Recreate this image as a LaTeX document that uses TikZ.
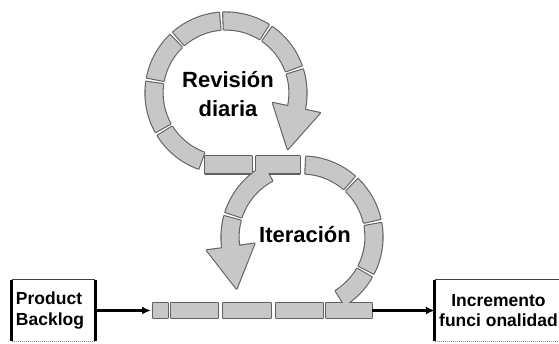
\documentclass[tikz,border=0pt]{standalone}
\usepackage{fontspec}
\setmainfont{Liberation Sans}
\usetikzlibrary{arrows.meta}

% All the segmented band pieces; #1 is the style they are drawn with.
\newcommand\bandshapes[1]{%
  % upper loop (centre 226,251)
  \foreach \a/\b in {250/212,209/172,169/134,131/95,92/58,55/20}{%
    \path[#1] ([shift={(226,251)}]\a:80.5) arc[start angle=\a,end angle=\b,radius=80.5]
      -- ([shift={(226,251)}]\b:63.5) arc[start angle=\b,end angle=\a,radius=63.5] -- cycle;}
  % upper loop arrow
  \path[#1] ([shift={(226,251)}]17:80.5) arc[start angle=17,end angle=-12,radius=80.5]
    -- (319.9,231.04) -- (287.7,194.95) -- (272.95,241.02)
    -- ([shift={(226,251)}]-12:63.5) arc[start angle=-12,end angle=17,radius=63.5] -- cycle;
  % straight band joining both loops
  \path[#1] (205,170.5) rectangle (252,187.5);
  \path[#1] (256,170.5) rectangle (300,187.5);
  % lower loop (centre 302,107)
  \foreach \a/\b in {87/49,46/13,10/-27,-30/-58,118/162}{%
    \path[#1] ([shift={(302,107)}]\a:80.5) arc[start angle=\a,end angle=\b,radius=80.5]
      -- ([shift={(302,107)}]\b:63.5) arc[start angle=\b,end angle=\a,radius=63.5] -- cycle;}
  % lower loop arrow
  \path[#1] ([shift={(302,107)}]165:80.5) arc[start angle=165,end angle=188,radius=80.5]
    -- (206.93,93.64) -- (236.55,55.39) -- (254.47,100.32)
    -- ([shift={(302,107)}]188:63.5) arc[start angle=188,end angle=165,radius=63.5] -- cycle;
  % flow band along the bottom
  \foreach \l/\r in {153/168,171/218,223/271,276/323,326/372}{%
    \path[#1] (\l,26) rectangle (\r,41);}
}

\begin{document}
\begin{tikzpicture}[x=1pt,y=1pt,
  bandline/.style={draw=black!62,line width=2.2pt,line join=round},
  bandfill/.style={fill=black!22},
  boxlabel/.style={font=\bfseries\fontsize{17.5}{20.5}\selectfont,inner sep=0pt},
  looplabel/.style={font=\bfseries\fontsize{22}{29}\selectfont,align=center,inner sep=0pt},
  flow/.style={line width=2.4pt,-{Latex[length=9pt,width=8pt]}},
  sideedge/.style={line width=3pt,black},
  topedge/.style={line width=1.3pt,black!75},
  baseedge/.style={line width=1pt,black!45,densely dotted},
  ]
\useasboundingbox (0,0) rectangle (559,344);
\clip (0,0) rectangle (559,344);

% segmented loops: outlines first, then the fill, so touching pieces merge
\bandshapes{bandline}
\bandshapes{bandfill}

% loop labels
\node[looplabel] (rev) at (228,250) {Revisión\\diaria};
\node[looplabel] (iter) at (305,109) {Iteración};

% input and output boxes
\node[boxlabel,minimum width=83,minimum height=61,text width=75,align=left] (pb) at (53.5,33.5) {Product\\Backlog};
\node[boxlabel,minimum width=127,minimum height=61,align=center] (inc) at (498.5,33.5) {Incremento\\funci onalidad};

\foreach \b in {pb,inc}{%
  \draw[topedge] (\b.north west) -- (\b.north east);
  \draw[baseedge] (\b.south west) -- (\b.south east);
  \draw[sideedge] (\b.north west) -- (\b.south west);
  \draw[sideedge] (\b.north east) -- (\b.south east);
}

% connectors into and out of the flow band
\coordinate (flowin) at (151,33.5);
\coordinate (flowout) at (372,33.5);
\draw[flow] (pb.east) -- (flowin);
\draw[flow] (flowout) -- (inc.west);
\end{tikzpicture}
\end{document}
